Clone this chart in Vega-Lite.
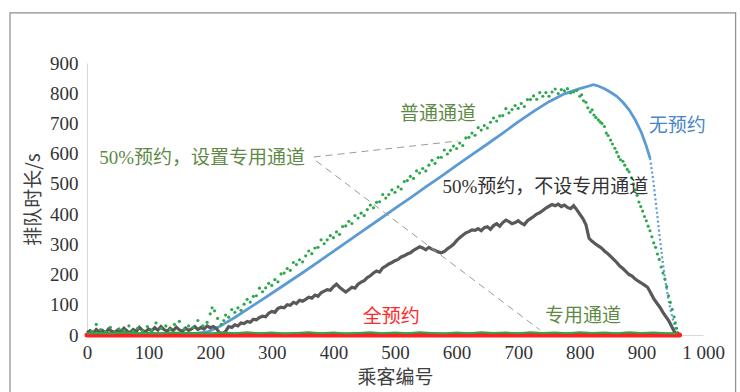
{
  "$schema": "https://vega.github.io/schema/vega-lite/v6.json",
  "width": 616,
  "height": 272,
  "autosize": {"type": "none"},
  "padding": {"left": 87, "top": 63, "right": 37, "bottom": 57},
  "background": "white",
  "config": {"view": {"stroke": null}},
  "datasets": {
    "frame": [{"x": -125, "x2": 1053, "y": 1066, "y2": -215}],
    "blue": [
      {"x": 0, "y": 2}, {"x": 50, "y": 4}, {"x": 100, "y": 3}, {"x": 150, "y": 5}, {"x": 180, "y": 6}, {"x": 195, "y": 10},
      {"x": 205, "y": 18}, {"x": 215, "y": 28}, {"x": 225, "y": 40}, {"x": 240, "y": 58}, {"x": 255, "y": 78}, {"x": 270, "y": 98},
      {"x": 285, "y": 118}, {"x": 300, "y": 138}, {"x": 325, "y": 172}, {"x": 350, "y": 206}, {"x": 375, "y": 241}, {"x": 400, "y": 277},
      {"x": 425, "y": 312}, {"x": 450, "y": 348}, {"x": 475, "y": 383}, {"x": 500, "y": 419}, {"x": 525, "y": 454}, {"x": 550, "y": 490},
      {"x": 575, "y": 525}, {"x": 600, "y": 561}, {"x": 625, "y": 597}, {"x": 650, "y": 632}, {"x": 675, "y": 668}, {"x": 700, "y": 705},
      {"x": 725, "y": 740}, {"x": 750, "y": 772}, {"x": 775, "y": 798}, {"x": 800, "y": 815}, {"x": 815, "y": 824}, {"x": 822, "y": 828},
      {"x": 830, "y": 824}, {"x": 840, "y": 815}, {"x": 850, "y": 803}, {"x": 860, "y": 790}, {"x": 870, "y": 770}, {"x": 880, "y": 745},
      {"x": 890, "y": 712}, {"x": 900, "y": 670}, {"x": 908, "y": 625}, {"x": 914, "y": 585}, {"x": 920, "y": 500}, {"x": 925, "y": 410},
      {"x": 930, "y": 320}, {"x": 935, "y": 235}, {"x": 940, "y": 165}, {"x": 945, "y": 105}, {"x": 950, "y": 60}, {"x": 955, "y": 25}, {"x": 958, "y": 5}
    ],
    "ordinary": [
      {"x": 8, "y": 12}, {"x": 15, "y": 35}, {"x": 22, "y": 18}, {"x": 30, "y": 10}, {"x": 38, "y": 25}, {"x": 45, "y": 8}, {"x": 52, "y": 20},
      {"x": 60, "y": 15}, {"x": 68, "y": 30}, {"x": 75, "y": 12}, {"x": 82, "y": 22}, {"x": 90, "y": 14}, {"x": 98, "y": 28}, {"x": 105, "y": 16},
      {"x": 112, "y": 40}, {"x": 120, "y": 22}, {"x": 128, "y": 30}, {"x": 135, "y": 18}, {"x": 142, "y": 35}, {"x": 150, "y": 45}, {"x": 158, "y": 20},
      {"x": 165, "y": 30}, {"x": 172, "y": 25}, {"x": 180, "y": 48}, {"x": 188, "y": 30}, {"x": 195, "y": 42}, {"x": 200, "y": 70}, {"x": 203, "y": 90},
      {"x": 207, "y": 80}, {"x": 212, "y": 55}, {"x": 218, "y": 35}, {"x": 222, "y": 48},
      {"x": 225, "y": 66}, {"x": 230, "y": 59}, {"x": 235, "y": 84}, {"x": 240, "y": 75}, {"x": 245, "y": 90}, {"x": 250, "y": 82}, {"x": 255, "y": 102},
      {"x": 260, "y": 118}, {"x": 265, "y": 109}, {"x": 270, "y": 128}, {"x": 275, "y": 130}, {"x": 280, "y": 155}, {"x": 285, "y": 143}, {"x": 290, "y": 156},
      {"x": 295, "y": 171}, {"x": 300, "y": 164}, {"x": 305, "y": 183}, {"x": 310, "y": 176}, {"x": 315, "y": 202}, {"x": 320, "y": 205}, {"x": 325, "y": 220},
      {"x": 330, "y": 214}, {"x": 335, "y": 240}, {"x": 340, "y": 233}, {"x": 345, "y": 249}, {"x": 350, "y": 242}, {"x": 355, "y": 262}, {"x": 360, "y": 278},
      {"x": 365, "y": 269}, {"x": 370, "y": 288}, {"x": 375, "y": 290}, {"x": 380, "y": 315}, {"x": 385, "y": 302}, {"x": 390, "y": 315}, {"x": 395, "y": 329},
      {"x": 400, "y": 322}, {"x": 405, "y": 341}, {"x": 410, "y": 333}, {"x": 415, "y": 359}, {"x": 420, "y": 361}, {"x": 425, "y": 376}, {"x": 430, "y": 369},
      {"x": 435, "y": 395}, {"x": 440, "y": 387}, {"x": 445, "y": 403}, {"x": 450, "y": 395}, {"x": 455, "y": 415}, {"x": 460, "y": 430}, {"x": 465, "y": 421},
      {"x": 470, "y": 439}, {"x": 475, "y": 441}, {"x": 480, "y": 465}, {"x": 485, "y": 453}, {"x": 490, "y": 465}, {"x": 495, "y": 480}, {"x": 500, "y": 472},
      {"x": 505, "y": 490}, {"x": 510, "y": 483}, {"x": 515, "y": 508}, {"x": 520, "y": 511}, {"x": 525, "y": 525}, {"x": 530, "y": 518}, {"x": 535, "y": 543},
      {"x": 540, "y": 536}, {"x": 545, "y": 551}, {"x": 550, "y": 543}, {"x": 555, "y": 562}, {"x": 560, "y": 578}, {"x": 565, "y": 568}, {"x": 570, "y": 587},
      {"x": 575, "y": 588}, {"x": 580, "y": 612}, {"x": 585, "y": 599}, {"x": 590, "y": 611}, {"x": 595, "y": 625}, {"x": 600, "y": 617}, {"x": 605, "y": 635},
      {"x": 610, "y": 627}, {"x": 615, "y": 652}, {"x": 620, "y": 654}, {"x": 625, "y": 668}, {"x": 630, "y": 661}, {"x": 635, "y": 686}, {"x": 640, "y": 678},
      {"x": 645, "y": 693}, {"x": 650, "y": 685}, {"x": 655, "y": 704}, {"x": 660, "y": 718}, {"x": 665, "y": 708}, {"x": 670, "y": 725}, {"x": 675, "y": 726},
      {"x": 680, "y": 749}, {"x": 685, "y": 735}, {"x": 690, "y": 746}, {"x": 695, "y": 759}, {"x": 700, "y": 750}, {"x": 705, "y": 766}, {"x": 710, "y": 756},
      {"x": 715, "y": 779}, {"x": 720, "y": 779}, {"x": 725, "y": 791}, {"x": 730, "y": 780}, {"x": 735, "y": 802}, {"x": 740, "y": 790}, {"x": 745, "y": 802},
      {"x": 750, "y": 790}, {"x": 755, "y": 804}, {"x": 760, "y": 814}, {"x": 765, "y": 799}, {"x": 770, "y": 812}, {"x": 775, "y": 808}, {"x": 780, "y": 815},
      {"x": 785, "y": 801}, {"x": 790, "y": 804}, {"x": 795, "y": 809},
      {"x": 800, "y": 790}, {"x": 803, "y": 795}, {"x": 806, "y": 775}, {"x": 810, "y": 770}, {"x": 813, "y": 752}, {"x": 817, "y": 738}, {"x": 820, "y": 745},
      {"x": 823, "y": 728}, {"x": 826, "y": 720}, {"x": 830, "y": 712}, {"x": 833, "y": 705}, {"x": 836, "y": 700}, {"x": 840, "y": 690}, {"x": 843, "y": 668},
      {"x": 846, "y": 660}, {"x": 850, "y": 645}, {"x": 853, "y": 632}, {"x": 857, "y": 618}, {"x": 860, "y": 605}, {"x": 863, "y": 590}, {"x": 866, "y": 580},
      {"x": 870, "y": 575}, {"x": 873, "y": 562}, {"x": 877, "y": 548}, {"x": 880, "y": 540}, {"x": 884, "y": 520}, {"x": 887, "y": 500}, {"x": 890, "y": 480},
      {"x": 893, "y": 462}, {"x": 896, "y": 440}, {"x": 899, "y": 425}, {"x": 902, "y": 410}, {"x": 905, "y": 392}, {"x": 908, "y": 378}, {"x": 911, "y": 360},
      {"x": 914, "y": 345}, {"x": 917, "y": 325}, {"x": 920, "y": 305}, {"x": 923, "y": 290}, {"x": 926, "y": 268}, {"x": 929, "y": 250}, {"x": 932, "y": 225},
      {"x": 935, "y": 205}, {"x": 938, "y": 185}, {"x": 941, "y": 160}, {"x": 944, "y": 130}, {"x": 947, "y": 108}, {"x": 950, "y": 85}, {"x": 953, "y": 60},
      {"x": 955, "y": 40}, {"x": 957, "y": 22}, {"x": 959, "y": 8}
    ],
    "gray": [
      {"x": 0, "y": 8}, {"x": 5, "y": 14}, {"x": 10, "y": 6}, {"x": 15, "y": 18}, {"x": 20, "y": 10}, {"x": 25, "y": 15}, {"x": 30, "y": 7}, {"x": 35, "y": 20},
      {"x": 40, "y": 12}, {"x": 45, "y": 9}, {"x": 50, "y": 17}, {"x": 55, "y": 11}, {"x": 60, "y": 22}, {"x": 65, "y": 13}, {"x": 70, "y": 8}, {"x": 75, "y": 18},
      {"x": 80, "y": 12}, {"x": 85, "y": 25}, {"x": 90, "y": 15}, {"x": 95, "y": 10}, {"x": 100, "y": 20}, {"x": 105, "y": 14}, {"x": 110, "y": 24}, {"x": 115, "y": 16},
      {"x": 120, "y": 28}, {"x": 125, "y": 18}, {"x": 130, "y": 12}, {"x": 135, "y": 22}, {"x": 140, "y": 15}, {"x": 145, "y": 26}, {"x": 150, "y": 17}, {"x": 155, "y": 12},
      {"x": 160, "y": 23}, {"x": 165, "y": 15}, {"x": 170, "y": 20}, {"x": 175, "y": 28}, {"x": 180, "y": 18}, {"x": 185, "y": 25}, {"x": 190, "y": 20}, {"x": 195, "y": 30},
      {"x": 200, "y": 24}, {"x": 205, "y": 28}, {"x": 210, "y": 22}, {"x": 215, "y": 8}, {"x": 220, "y": 4}, {"x": 225, "y": 12}, {"x": 230, "y": 28}, {"x": 235, "y": 25},
      {"x": 240, "y": 34}, {"x": 245, "y": 30}, {"x": 250, "y": 40}, {"x": 255, "y": 38}, {"x": 260, "y": 45}, {"x": 265, "y": 42}, {"x": 270, "y": 52}, {"x": 275, "y": 50},
      {"x": 280, "y": 58}, {"x": 285, "y": 62}, {"x": 290, "y": 60}, {"x": 295, "y": 72}, {"x": 300, "y": 78}, {"x": 305, "y": 75}, {"x": 310, "y": 88}, {"x": 315, "y": 92},
      {"x": 320, "y": 90}, {"x": 325, "y": 100}, {"x": 330, "y": 98}, {"x": 335, "y": 108}, {"x": 340, "y": 104}, {"x": 345, "y": 115}, {"x": 350, "y": 112}, {"x": 355, "y": 118},
      {"x": 360, "y": 125}, {"x": 365, "y": 122}, {"x": 370, "y": 132}, {"x": 375, "y": 128}, {"x": 380, "y": 140}, {"x": 385, "y": 145}, {"x": 390, "y": 150}, {"x": 395, "y": 148},
      {"x": 400, "y": 160}, {"x": 405, "y": 168}, {"x": 410, "y": 158}, {"x": 415, "y": 150}, {"x": 420, "y": 142}, {"x": 425, "y": 150}, {"x": 430, "y": 158}, {"x": 435, "y": 155},
      {"x": 440, "y": 168}, {"x": 445, "y": 175}, {"x": 450, "y": 180}, {"x": 455, "y": 190}, {"x": 460, "y": 196}, {"x": 465, "y": 205}, {"x": 470, "y": 212}, {"x": 475, "y": 208},
      {"x": 480, "y": 222}, {"x": 485, "y": 228}, {"x": 490, "y": 235}, {"x": 495, "y": 240}, {"x": 500, "y": 246}, {"x": 505, "y": 250}, {"x": 510, "y": 258}, {"x": 515, "y": 262},
      {"x": 520, "y": 268}, {"x": 525, "y": 272}, {"x": 530, "y": 280}, {"x": 535, "y": 286}, {"x": 540, "y": 292}, {"x": 545, "y": 288}, {"x": 550, "y": 282}, {"x": 555, "y": 290},
      {"x": 560, "y": 284}, {"x": 565, "y": 280}, {"x": 570, "y": 275}, {"x": 575, "y": 272}, {"x": 580, "y": 276}, {"x": 585, "y": 285}, {"x": 590, "y": 292}, {"x": 595, "y": 300},
      {"x": 600, "y": 312}, {"x": 605, "y": 322}, {"x": 610, "y": 330}, {"x": 615, "y": 338}, {"x": 620, "y": 342}, {"x": 625, "y": 348}, {"x": 630, "y": 346}, {"x": 635, "y": 352},
      {"x": 640, "y": 345}, {"x": 645, "y": 355}, {"x": 650, "y": 358}, {"x": 655, "y": 350}, {"x": 660, "y": 362}, {"x": 665, "y": 368}, {"x": 670, "y": 360}, {"x": 675, "y": 372},
      {"x": 680, "y": 380}, {"x": 685, "y": 375}, {"x": 690, "y": 368}, {"x": 695, "y": 372}, {"x": 700, "y": 378}, {"x": 705, "y": 370}, {"x": 710, "y": 365}, {"x": 715, "y": 378},
      {"x": 720, "y": 385}, {"x": 725, "y": 392}, {"x": 730, "y": 400}, {"x": 735, "y": 405}, {"x": 740, "y": 412}, {"x": 745, "y": 420}, {"x": 750, "y": 426}, {"x": 755, "y": 432},
      {"x": 760, "y": 428}, {"x": 765, "y": 433}, {"x": 770, "y": 425}, {"x": 775, "y": 430}, {"x": 780, "y": 422}, {"x": 785, "y": 418}, {"x": 790, "y": 428}, {"x": 795, "y": 415},
      {"x": 800, "y": 400}, {"x": 805, "y": 385}, {"x": 810, "y": 365}, {"x": 815, "y": 320}, {"x": 820, "y": 310}, {"x": 825, "y": 302}, {"x": 830, "y": 295}, {"x": 835, "y": 288},
      {"x": 840, "y": 278}, {"x": 845, "y": 270}, {"x": 850, "y": 260}, {"x": 855, "y": 250}, {"x": 860, "y": 240}, {"x": 865, "y": 228}, {"x": 870, "y": 220}, {"x": 875, "y": 210},
      {"x": 880, "y": 200}, {"x": 885, "y": 195}, {"x": 890, "y": 185}, {"x": 895, "y": 178}, {"x": 900, "y": 172}, {"x": 905, "y": 165}, {"x": 910, "y": 158}, {"x": 915, "y": 140},
      {"x": 920, "y": 120}, {"x": 925, "y": 106}, {"x": 930, "y": 92}, {"x": 935, "y": 75}, {"x": 940, "y": 60}, {"x": 945, "y": 45}, {"x": 950, "y": 25}, {"x": 955, "y": 5}
    ],
    "dedicated": [
      {"x": 0, "y": 5}, {"x": 20, "y": 7}, {"x": 40, "y": 5}, {"x": 60, "y": 8}, {"x": 80, "y": 6}, {"x": 100, "y": 7}, {"x": 120, "y": 5}, {"x": 140, "y": 8},
      {"x": 160, "y": 6}, {"x": 180, "y": 7}, {"x": 200, "y": 5}, {"x": 220, "y": 8}, {"x": 240, "y": 6}, {"x": 260, "y": 9}, {"x": 280, "y": 6}, {"x": 300, "y": 8},
      {"x": 320, "y": 5}, {"x": 340, "y": 7}, {"x": 360, "y": 9}, {"x": 380, "y": 6}, {"x": 400, "y": 8}, {"x": 420, "y": 5}, {"x": 440, "y": 7}, {"x": 460, "y": 9},
      {"x": 480, "y": 6}, {"x": 500, "y": 8}, {"x": 520, "y": 6}, {"x": 540, "y": 9}, {"x": 560, "y": 7}, {"x": 580, "y": 5}, {"x": 600, "y": 8}, {"x": 620, "y": 6},
      {"x": 640, "y": 9}, {"x": 660, "y": 7}, {"x": 680, "y": 8}, {"x": 700, "y": 6}, {"x": 720, "y": 9}, {"x": 740, "y": 7}, {"x": 760, "y": 8}, {"x": 780, "y": 6},
      {"x": 800, "y": 9}, {"x": 820, "y": 7}, {"x": 840, "y": 8}, {"x": 860, "y": 6}, {"x": 880, "y": 9}, {"x": 900, "y": 7}, {"x": 920, "y": 8}, {"x": 940, "y": 6}, {"x": 958, "y": 5}
    ],
    "full": [{"x": 0, "y": 0}, {"x": 962, "y": 0}],
    "leaders": [
      {"x": 368, "y": 589, "x2": 602, "y2": 642},
      {"x": 372, "y": 576, "x2": 735, "y2": 17}
    ],
    "labels": [
      {"x": 570, "y": 732, "label": "普通通道", "series": "ordinary"},
      {"x": 958, "y": 692, "label": "无预约", "series": "none"},
      {"x": 744, "y": 490, "label": "50%预约，不设专用通道", "series": "half"},
      {"x": 187, "y": 586, "label": "50%预约，设置专用通道", "series": "ordinary"},
      {"x": 494, "y": 58, "label": "全预约", "series": "full"},
      {"x": 805, "y": 63, "label": "专用通道", "series": "ordinary"}
    ]
  },
  "encoding": {
    "x": {
      "field": "x", "type": "quantitative",
      "scale": {"domain": [0, 1000], "nice": false},
      "axis": {
        "title": "乘客编号", "values": [0, 100, 200, 300, 400, 500, 600, 700, 800, 900, 1000],
        "labelExpr": "datum.value == 1000 ? '1 000' : datum.value",
        "grid": false, "ticks": false, "domainColor": "#d9d9d9", "domainWidth": 1,
        "labelFont": "Liberation Serif", "labelFontSize": 19, "labelColor": "#333333", "labelPadding": 8,
        "labelOverlap": false, "labelFlush": false,
        "titleFont": "Noto Sans CJK SC", "titleFontSize": 19, "titleFontWeight": "normal", "titleColor": "#404040", "titlePadding": 6
      }
    },
    "y": {
      "field": "y", "type": "quantitative",
      "scale": {"domain": [0, 900], "nice": false},
      "axis": {
        "title": "排队时长/s", "values": [0, 100, 200, 300, 400, 500, 600, 700, 800, 900],
        "grid": false, "ticks": false, "domainColor": "#d9d9d9", "domainWidth": 1,
        "labelFont": "Liberation Serif", "labelFontSize": 19, "labelColor": "#333333", "labelPadding": 9,
        "labelOverlap": false,
        "titleFont": "Noto Sans CJK SC", "titleFontSize": 19, "titleFontWeight": "normal", "titleColor": "#404040", "titlePadding": 6
      }
    }
  },
  "layer": [
    {"data": {"name": "frame"}, "mark": {"type": "rect", "filled": false, "stroke": "#8c8c8c", "strokeWidth": 1.2}, "encoding": {"x2": {"field": "x2"}, "y2": {"field": "y2"}}},
    {"data": {"name": "blue"}, "transform": [{"filter": "datum.x <= 914"}], "mark": {"type": "line", "color": "#5b9bd5", "strokeWidth": 2.8}, "encoding": {}},
    {"data": {"name": "blue"}, "transform": [{"filter": "datum.x >= 914"}], "mark": {"type": "line", "color": "#5b9bd5", "strokeWidth": 2.2, "strokeDash": [2, 2.5]}, "encoding": {}},
    {"data": {"name": "gray"}, "mark": {"type": "line", "color": "#595959", "strokeWidth": 3.2}, "encoding": {}},
    {"data": {"name": "ordinary"}, "mark": {"type": "circle", "color": "#2ea84e", "size": 10, "opacity": 1}, "encoding": {}},
    {"data": {"name": "full"}, "mark": {"type": "line", "color": "#ff1f1f", "strokeWidth": 5, "strokeCap": "round"}, "encoding": {}},
    {"data": {"name": "dedicated"}, "mark": {"type": "line", "color": "#2ea84e", "strokeWidth": 2}, "encoding": {}},
    {"data": {"name": "leaders"}, "mark": {"type": "rule", "color": "#9a9a9a", "strokeWidth": 1, "strokeDash": [7, 5]}, "encoding": {"x2": {"field": "x2"}, "y2": {"field": "y2"}}},
    {"data": {"name": "labels"}, "mark": {"type": "text", "font": "Liberation Serif, Noto Sans CJK SC", "fontSize": 19, "align": "center", "baseline": "middle"},
     "encoding": {
       "text": {"field": "label"},
       "color": {"field": "series", "type": "nominal", "legend": null,
                 "scale": {"domain": ["ordinary", "none", "half", "full"], "range": ["#5f8a46", "#4a86c8", "#333333", "#ff2a2a"]}}
     }}
  ]
}
